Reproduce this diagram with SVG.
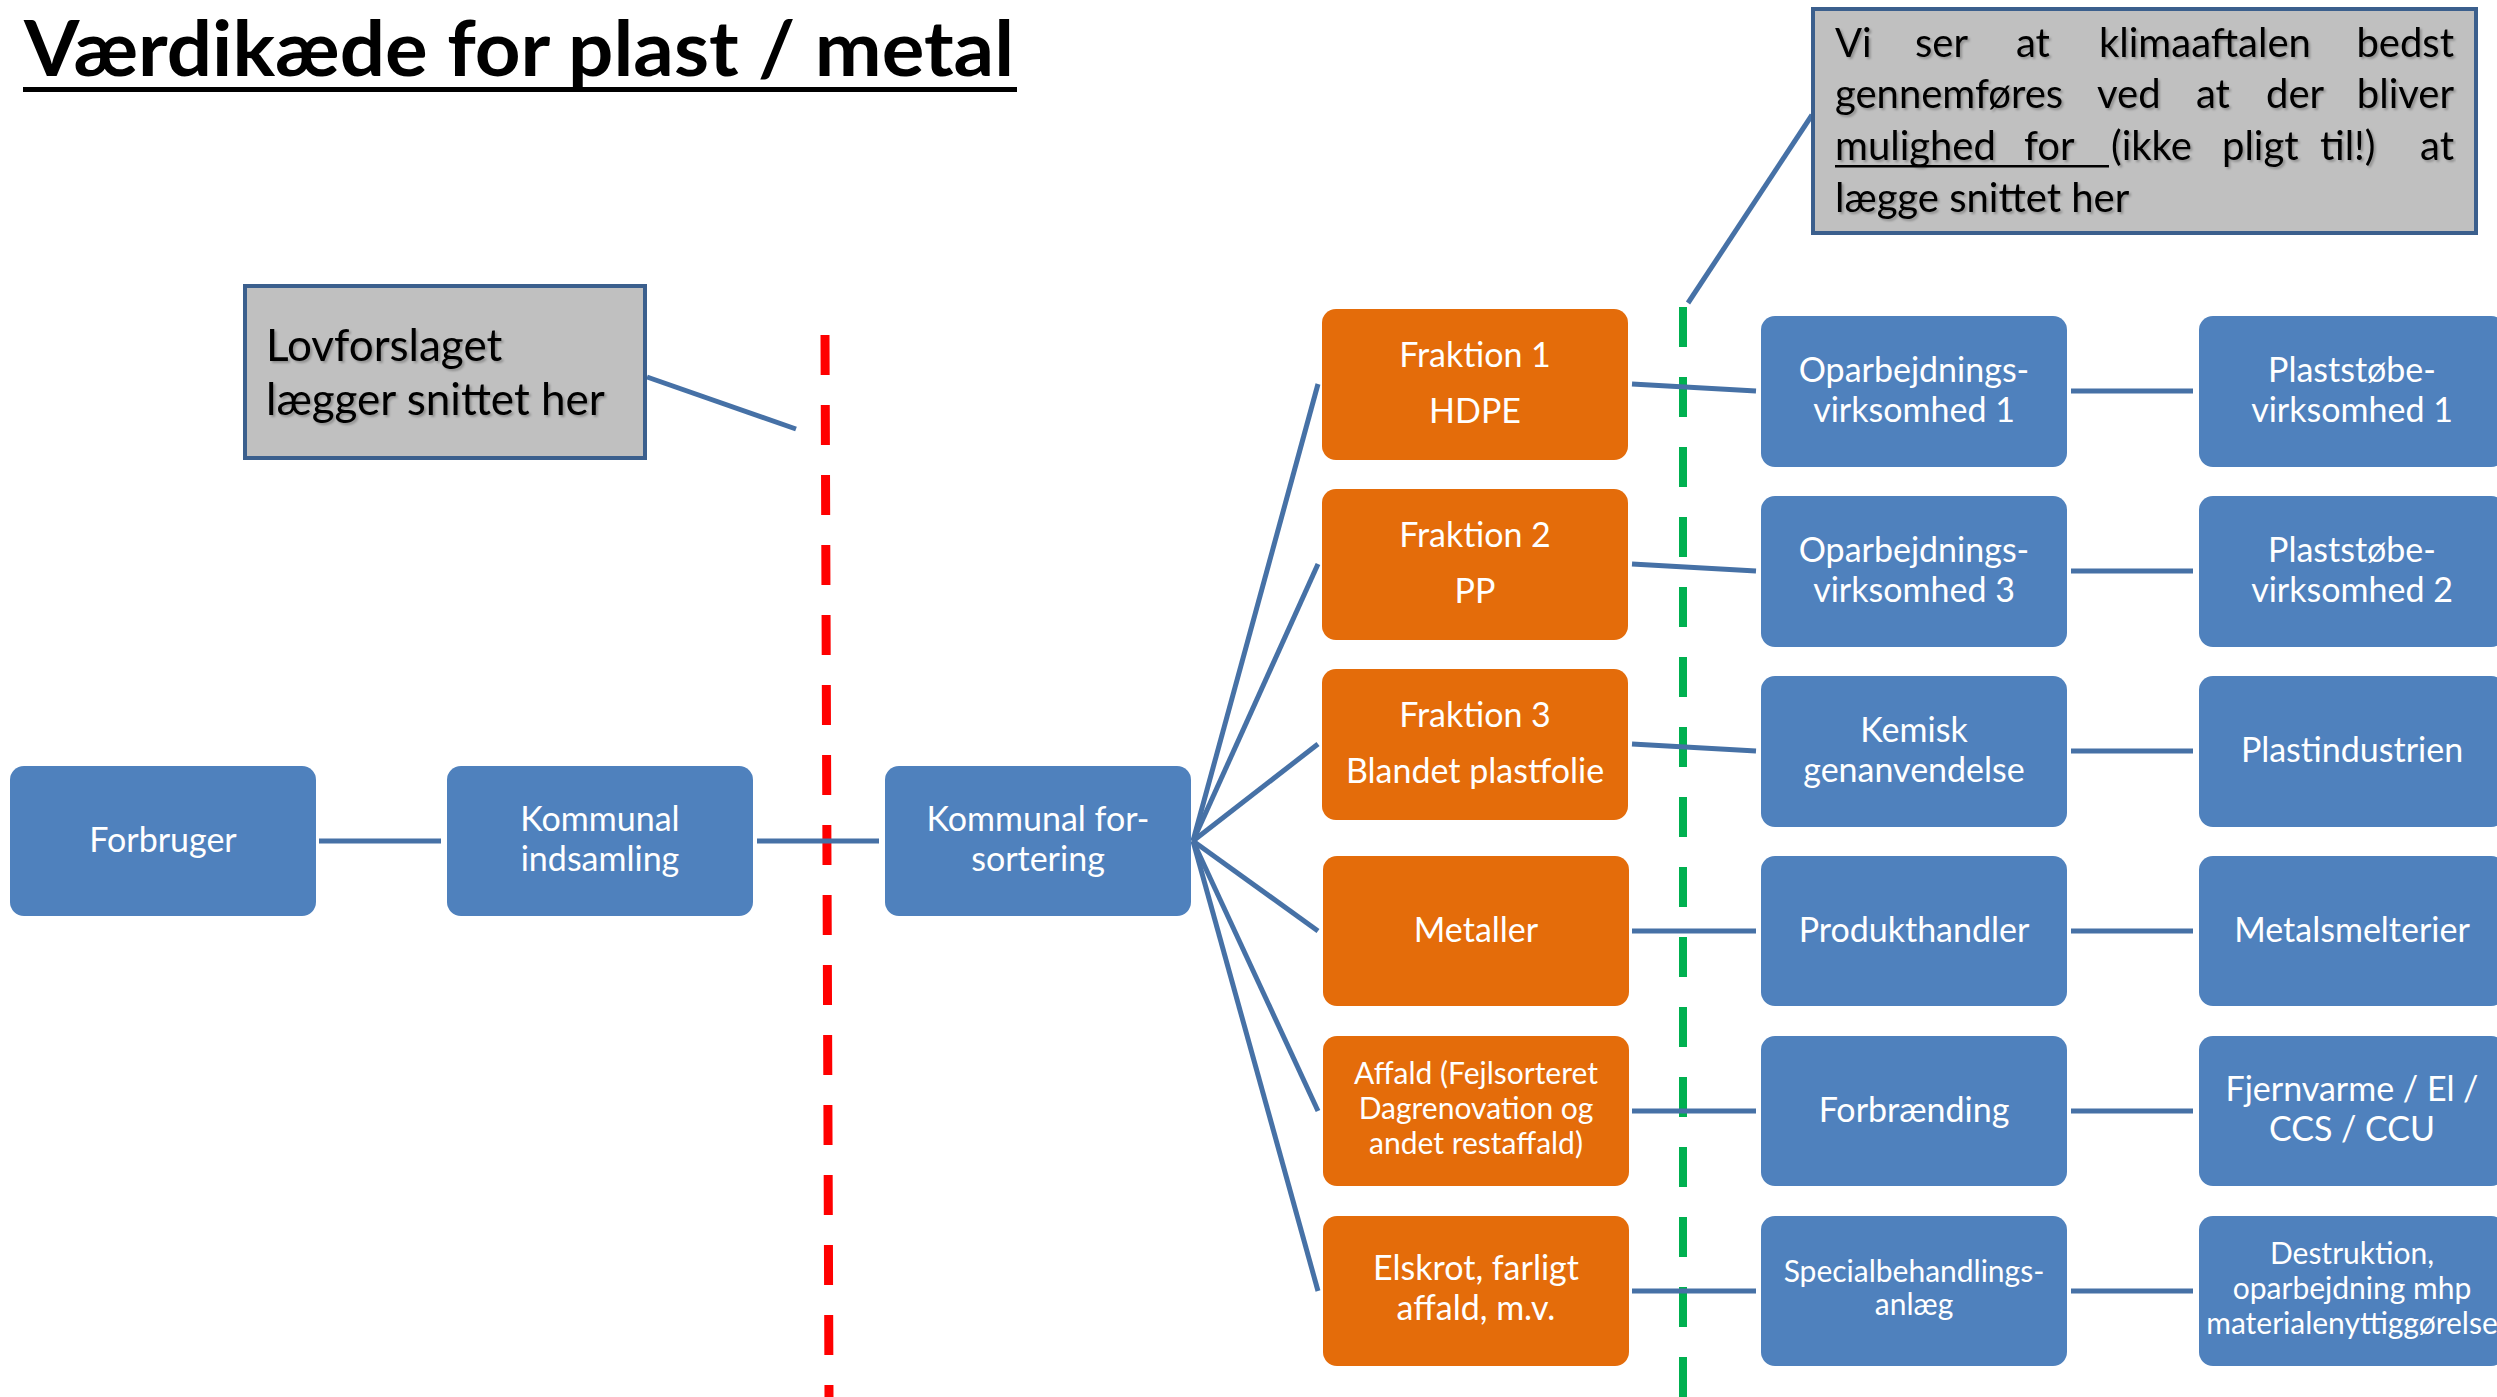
<svg xmlns="http://www.w3.org/2000/svg" width="2497" height="1397" viewBox="0 0 2497 1397">
<defs>
<filter id="tshadow" x="-5%" y="-20%" width="110%" height="140%">
<feDropShadow dx="2" dy="2" stdDeviation="1" flood-color="#000000" flood-opacity="0.25"/>
</filter>
</defs>
<style>
.node rect{stroke:none}
.blue{fill:#4F81BD}
.orange{fill:#E46C0A}
.nt{font-family:Lato,"Liberation Sans",sans-serif;fill:#FFFFFF;font-size:34px;text-anchor:middle}
.sm{font-size:30px}
.conn line{stroke:#4671A6;stroke-width:5;fill:none}
.lead{stroke:#3B5F8D;stroke-width:4;fill:none}
.box{fill:#C0C0C0;stroke:#3B5F8D;stroke-width:4}
.ct{font-family:Lato,"Liberation Sans",sans-serif;fill:#000000;font-size:40px;filter:url(#tshadow)}
.big{font-size:44px}
.title{font-family:Lato,"Liberation Sans",sans-serif;font-weight:bold;font-size:76px;fill:#000000}
</style>
<rect x="0" y="0" width="2497" height="1397" fill="#FFFFFF"/>
<g id="title">
<text class="title" x="24" y="76" textLength="990" lengthAdjust="spacingAndGlyphs">Værdikæde for plast / metal</text>
<rect x="23" y="87" width="994" height="5" fill="#000000"/>
</g>
<g id="cut-lines">
<line x1="825" y1="335" x2="829" y2="1397" stroke="#FF0000" stroke-width="9" stroke-dasharray="40 30"/>
<line x1="1683" y1="307" x2="1683" y2="1397" stroke="#00B050" stroke-width="8" stroke-dasharray="40 30"/>
</g>
<g id="connectors" class="conn">
<line x1="319" y1="841" x2="441" y2="841"/>
<line x1="757" y1="841" x2="879" y2="841"/>
<line x1="1193" y1="841" x2="1318" y2="384"/>
<line x1="1193" y1="841" x2="1318" y2="564"/>
<line x1="1193" y1="841" x2="1318" y2="744"/>
<line x1="1193" y1="841" x2="1318" y2="931"/>
<line x1="1193" y1="841" x2="1318" y2="1111"/>
<line x1="1193" y1="841" x2="1318" y2="1291"/>
<line x1="1632" y1="384" x2="1756" y2="391"/>
<line x1="1632" y1="564" x2="1756" y2="571"/>
<line x1="1632" y1="744" x2="1756" y2="751"/>
<line x1="1632" y1="931" x2="1756" y2="931"/>
<line x1="1632" y1="1111" x2="1756" y2="1111"/>
<line x1="1632" y1="1291" x2="1756" y2="1291"/>
<line x1="2071" y1="391" x2="2193" y2="391"/>
<line x1="2071" y1="571" x2="2193" y2="571"/>
<line x1="2071" y1="751" x2="2193" y2="751"/>
<line x1="2071" y1="931" x2="2193" y2="931"/>
<line x1="2071" y1="1111" x2="2193" y2="1111"/>
<line x1="2071" y1="1291" x2="2193" y2="1291"/>
<line class="lead" x1="647" y1="377" x2="796" y2="429"/>
<line class="lead" x1="1812" y1="115" x2="1688" y2="303"/>
</g>
<g id="callout-lovforslaget">
<rect class="box" x="245" y="286" width="400" height="172"/>
<text class="ct big" x="266" y="361">Lovforslaget</text>
<text class="ct big" x="266" y="415">lægger snittet her</text>
</g>
<g id="callout-klimaaftalen">
<rect class="box" x="1813" y="9" width="663" height="224"/>
<text class="ct" y="57"><tspan x="1835">Vi</tspan><tspan x="1915">ser</tspan><tspan x="2016">at</tspan><tspan x="2099">klimaaftalen</tspan></text>
<text class="ct" y="57" x="2454" text-anchor="end">bedst</text>
<text class="ct" y="108"><tspan x="1835">gennemføres</tspan><tspan x="2097">ved</tspan><tspan x="2196">at</tspan><tspan x="2266">der</tspan></text>
<text class="ct" y="108" x="2454" text-anchor="end">bliver</text>
<text class="ct" y="160"><tspan x="1835">mulighed</tspan><tspan x="2024">for</tspan><tspan x="2111">(ikke</tspan><tspan x="2222">pligt</tspan><tspan x="2320">til!)</tspan></text>
<text class="ct" y="160" x="2454" text-anchor="end">at</text>
<rect x="1835" y="165" width="274" height="2.5" fill="#000000"/>
<text class="ct" x="1835" y="212">lægge snittet her</text>
</g>
<g id="n-forbruger" class="node"><rect class="blue" x="10" y="766" width="306" height="150" rx="14"/><text class="nt" x="163" y="852">Forbruger</text></g>
<g id="n-indsamling" class="node"><rect class="blue" x="447" y="766" width="306" height="150" rx="14"/><text class="nt" x="600" y="831">Kommunal</text><text class="nt" x="600" y="871">indsamling</text></g>
<g id="n-forsortering" class="node"><rect class="blue" x="885" y="766" width="306" height="150" rx="14"/><text class="nt" x="1038" y="831">Kommunal for-</text><text class="nt" x="1038" y="871">sortering</text></g>
<g id="n-fraktion1" class="node"><rect class="orange" x="1322" y="309" width="306" height="151" rx="14"/><text class="nt" x="1475" y="367">Fraktion 1</text><text class="nt" x="1475" y="423">HDPE</text></g>
<g id="n-fraktion2" class="node"><rect class="orange" x="1322" y="489" width="306" height="151" rx="14"/><text class="nt" x="1475" y="547">Fraktion 2</text><text class="nt" x="1475" y="603">PP</text></g>
<g id="n-fraktion3" class="node"><rect class="orange" x="1322" y="669" width="306" height="151" rx="14"/><text class="nt" x="1475" y="727">Fraktion 3</text><text class="nt" x="1475" y="783">Blandet plastfolie</text></g>
<g id="n-metaller" class="node"><rect class="orange" x="1323" y="856" width="306" height="150" rx="14"/><text class="nt" x="1476" y="942">Metaller</text></g>
<g id="n-affald" class="node"><rect class="orange" x="1323" y="1036" width="306" height="150" rx="14"/><text class="nt sm" x="1476" y="1084">Affald (Fejlsorteret</text><text class="nt sm" x="1476" y="1119">Dagrenovation og</text><text class="nt sm" x="1476" y="1154">andet restaffald)</text></g>
<g id="n-elskrot" class="node"><rect class="orange" x="1323" y="1216" width="306" height="150" rx="14"/><text class="nt" x="1476" y="1280">Elskrot, farligt</text><text class="nt" x="1476" y="1320">affald, m.v.</text></g>
<g id="n-oparb1" class="node"><rect class="blue" x="1761" y="316" width="306" height="151" rx="14"/><text class="nt" x="1914" y="382">Oparbejdnings-</text><text class="nt" x="1914" y="422">virksomhed 1</text></g>
<g id="n-oparb3" class="node"><rect class="blue" x="1761" y="496" width="306" height="151" rx="14"/><text class="nt" x="1914" y="562">Oparbejdnings-</text><text class="nt" x="1914" y="602">virksomhed 3</text></g>
<g id="n-kemisk" class="node"><rect class="blue" x="1761" y="676" width="306" height="151" rx="14"/><text class="nt" x="1914" y="742">Kemisk</text><text class="nt" x="1914" y="782">genanvendelse</text></g>
<g id="n-produkthandler" class="node"><rect class="blue" x="1761" y="856" width="306" height="150" rx="14"/><text class="nt" x="1914" y="942">Produkthandler</text></g>
<g id="n-forbraending" class="node"><rect class="blue" x="1761" y="1036" width="306" height="150" rx="14"/><text class="nt" x="1914" y="1122">Forbrænding</text></g>
<g id="n-special" class="node"><rect class="blue" x="1761" y="1216" width="306" height="150" rx="14"/><text class="nt sm" x="1914" y="1282">Specialbehandlings-</text><text class="nt sm" x="1914" y="1315">anlæg</text></g>
<g id="n-plast1" class="node"><rect class="blue" x="2199" y="316" width="306" height="151" rx="14"/><text class="nt" x="2352" y="382">Plaststøbe-</text><text class="nt" x="2352" y="422">virksomhed 1</text></g>
<g id="n-plast2" class="node"><rect class="blue" x="2199" y="496" width="306" height="151" rx="14"/><text class="nt" x="2352" y="562">Plaststøbe-</text><text class="nt" x="2352" y="602">virksomhed 2</text></g>
<g id="n-plastindustrien" class="node"><rect class="blue" x="2199" y="676" width="306" height="151" rx="14"/><text class="nt" x="2352" y="762">Plastindustrien</text></g>
<g id="n-metalsmelterier" class="node"><rect class="blue" x="2199" y="856" width="306" height="150" rx="14"/><text class="nt" x="2352" y="942">Metalsmelterier</text></g>
<g id="n-fjernvarme" class="node"><rect class="blue" x="2199" y="1036" width="306" height="150" rx="14"/><text class="nt" x="2352" y="1101">Fjernvarme / El /</text><text class="nt" x="2352" y="1141">CCS / CCU</text></g>
<g id="n-destruktion" class="node"><rect class="blue" x="2199" y="1216" width="306" height="150" rx="14"/><text class="nt sm" x="2352" y="1264">Destruktion,</text><text class="nt sm" x="2352" y="1299">oparbejdning mhp</text><text class="nt sm" x="2352" y="1334">materialenyttiggørelse</text></g>
</svg>
